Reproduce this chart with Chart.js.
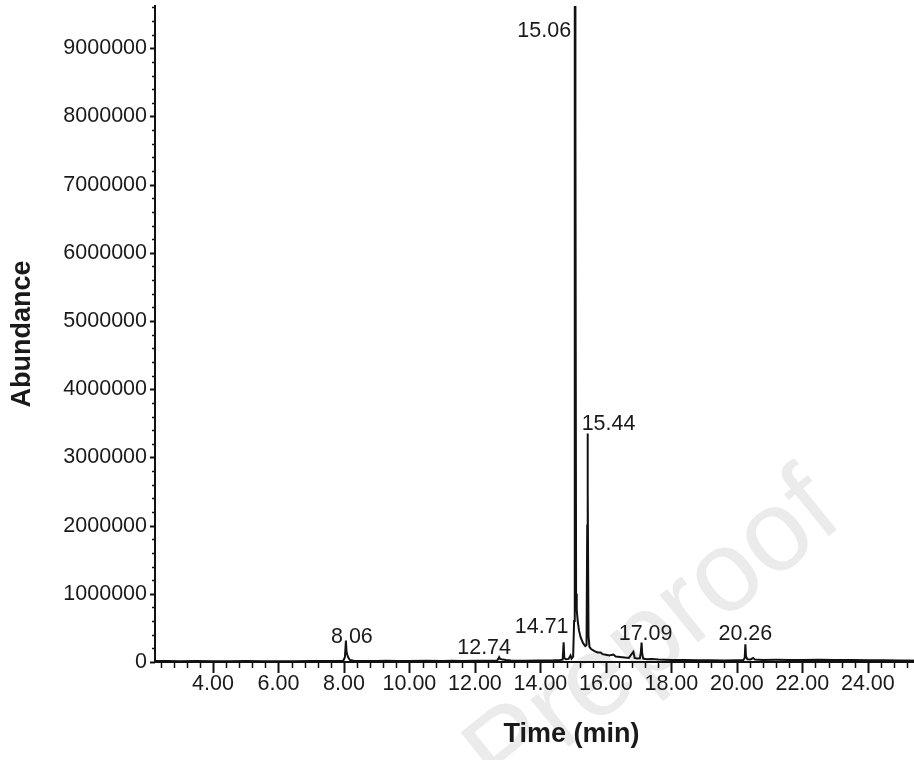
<!DOCTYPE html>
<html>
<head>
<meta charset="utf-8">
<script src="https://cdn.jsdelivr.net/npm/chart.js@4.4.1/dist/chart.umd.min.js"></script>
<style>
  html, body { margin: 0; padding: 0; background: #fff; overflow: hidden; }
  #wrap { width: 990px; height: 760px; }
</style>
</head>
<body>
<div id="wrap"><canvas id="myChart" width="990" height="760"></canvas></div>
<script>

//inicio - dados do cromatograma

const tempos = [
    2.23, 2.6, 3.0, 3.5, 4.0, 4.5, 5.0, 5.5, 6.0, 6.5, 7.0, 7.4, 7.8, 7.98,
    8.03, 8.06, 8.08, 8.10, 8.13, 8.18, 8.3, 8.6, 9.0, 9.3, 9.6, 10.0, 10.5,
    11.0, 11.3, 11.6, 12.0, 12.4, 12.68, 12.72, 12.74, 12.77, 12.85, 12.95,
    13.1, 13.5, 14.0, 14.4, 14.6, 14.68, 14.71, 14.73, 14.78, 14.86, 14.92,
    14.95, 15.00, 15.03, 15.05, 15.06, 15.07, 15.09, 15.11, 15.14, 15.18,
    15.23, 15.30, 15.37, 15.41, 15.43, 15.44, 15.45, 15.47, 15.50, 15.55,
    15.65, 15.75, 15.84, 15.9, 16.0, 16.1, 16.23, 16.3, 16.5, 16.7, 16.84,
    16.88, 16.95, 17.04, 17.07, 17.09, 17.11, 17.14, 17.25, 17.4, 17.6, 17.8,
    18.0, 18.4, 18.8, 19.2, 19.6, 20.0, 20.2, 20.24, 20.26, 20.28, 20.32,
    20.42, 20.5, 20.55, 20.8, 21.2, 21.6, 22.0, 22.5, 23.0, 23.5, 24.0, 24.5,
    25.0, 26.0, 27.0, 27.7
];
const abundancia = [
    15000, 13000, 12000, 14000, 10000, 12000, 13000, 11000, 10000, 12000, 14000, 13000, 16000, 18000,
    70000, 310000, 150000, 110000, 70000, 30000, 20000, 16000, 15000, 20000, 16000, 14000, 17000,
    15000, 19000, 16000, 17000, 18000, 22000, 50000, 70000, 45000, 35000, 28000,
    21000, 20000, 22000, 24000, 28000, 35000, 290000, 60000, 40000, 45000, 95000,
    50000, 80000, 600000, 9500000, 10400000, 8000000, 1000000, 760000, 600000, 460000,
    360000, 280000, 235000, 250000, 2000000, 3350000, 2500000, 380000, 220000, 190000,
    160000, 140000, 140000, 115000, 105000, 95000, 110000, 80000, 70000, 60000, 150000,
    60000, 50000, 55000, 150000, 285000, 120000, 50000, 42000, 45000, 38000, 34000,
    30000, 28000, 26000, 24000, 23000, 25000, 28000, 60000, 260000, 80000, 40000,
    38000, 60000, 35000, 30000, 32000, 30000, 31000, 34000, 30000, 28000, 26000, 24000,
    22000, 20000, 18000, 17000
];

const picosTempo = [8.06, 12.74, 14.71, 15.06, 15.44, 17.09, 20.26];
const picosTexto = ['8.06', '12.74', '14.71', '15.06', '15.44', '17.09', '20.26'];

const ticksX = [4, 6, 8, 10, 12, 14, 16, 18, 20, 22, 24];
const ticksY = [0, 1000000, 2000000, 3000000, 4000000, 5000000, 6000000, 7000000, 8000000, 9000000];

//fim - dados do cromatograma


const fonte = '"Liberation Sans", Arial, sans-serif';
const corTexto = '#1a1a1a';

// posicao dos rotulos em relacao ao topo de cada pico (dx, dy, alinhamento)
const rotuloAjuste = [
    [6, 2, 'center'],
    [-15, -3, 'center'],
    [-22, -9, 'center'],
    [-4, 31, 'right'],
    [21, -4, 'center'],
    [4, -3, 'center'],
    [0, -4, 'center']
];

const fundoMarcaDagua = {
    id: 'fundoMarcaDagua',
    beforeDraw(chart) {
        const ctx = chart.ctx;
        ctx.save();
        ctx.fillStyle = '#fff';
        ctx.fillRect(0, 0, chart.width, chart.height);
        ctx.translate(503, 800);
        ctx.rotate(-39 * Math.PI / 180);
        ctx.font = '115px ' + fonte;
        ctx.fillStyle = '#ebebeb';
        ctx.textAlign = 'left';
        ctx.textBaseline = 'alphabetic';
        ctx.fillText('Preproof', 0, 0);
        ctx.restore();
    }
};

const marcasEixos = {
    id: 'marcasEixos',
    afterDraw(chart) {
        const {ctx, chartArea, scales: {x, y}} = chart;
        ctx.save();
        ctx.strokeStyle = '#111';
        // eixo x: menor a cada 0.4 min
        for (let i = 6; i * 0.4 <= x.max; i++) {
            const px = Math.round(x.getPixelForValue(i * 0.4)) + 0.5;
            const maior = i % 5 === 0;
            ctx.lineWidth = maior ? 2 : 1.5;
            ctx.beginPath();
            ctx.moveTo(px, chartArea.bottom);
            ctx.lineTo(px, chartArea.bottom + (maior ? 11 : 6));
            ctx.stroke();
        }
        // eixo y: menor a cada 200000
        for (let i = 0; i * 200000 <= y.max; i++) {
            const py = Math.round(y.getPixelForValue(i * 200000)) + 0.5;
            const maior = i % 5 === 0;
            ctx.lineWidth = maior ? 2 : 1.5;
            ctx.beginPath();
            ctx.moveTo(chartArea.left, py);
            ctx.lineTo(chartArea.left - (maior ? 5 : 3), py);
            ctx.stroke();
        }
        ctx.restore();
    }
};

const rotulosPicos = {
    id: 'rotulosPicos',
    afterDatasetsDraw(chart) {
        const {ctx, chartArea, scales: {x, y}} = chart;
        ctx.save();
        ctx.font = '21.5px ' + fonte;
        ctx.fillStyle = corTexto;
        ctx.textBaseline = 'alphabetic';
        picosTempo.forEach((t, k) => {
            let topo = 0;
            tempos.forEach((tt, j) => {
                if (Math.abs(tt - t) <= 0.03 && abundancia[j] > topo) topo = abundancia[j];
            });
            const px = x.getPixelForValue(t);
            const py = Math.max(y.getPixelForValue(topo), chartArea.top);
            const aj = rotuloAjuste[k];
            ctx.textAlign = aj[2];
            ctx.fillText(picosTexto[k], px + aj[0], py + aj[1]);
        });
        ctx.restore();
    }
};

const ctx1 = document.getElementById('myChart');

new Chart(ctx1, {
    type: 'line',
    data: {
        datasets: [{
            label: 'Abundance',
            data: tempos.map((t, i) => ({x: t, y: abundancia[i]})),
            borderColor: '#111',
            borderWidth: 2,
            pointRadius: 0,
            tension: 0,
            fill: false
        }]
    },
    options: {
        responsive: false,
        animation: false,
        devicePixelRatio: 1,
        layout: {padding: {top: 6, right: 2, left: 0, bottom: 0}},
        plugins: {
            legend: {display: false},
            tooltip: {enabled: false}
        },
        scales: {
            x: {
                type: 'linear',
                min: 2.23,
                max: 27.67,
                grid: {display: true, drawOnChartArea: false, drawTicks: false},
                border: {display: true, color: '#111', width: 2},
                afterBuildTicks: (s) => { s.ticks = ticksX.map(v => ({value: v})); },
                afterFit: (s) => { s.height = 98; s.paddingLeft = 0; s.paddingRight = 0; },
                ticks: {
                    autoSkip: false,
                    maxRotation: 0,
                    padding: 9,
                    color: corTexto,
                    font: {family: fonte, size: 21.5},
                    callback: (v) => Number(v).toFixed(2)
                },
                title: {
                    display: true,
                    text: 'Time (min)',
                    color: corTexto,
                    font: {family: fonte, size: 27, weight: 'bold'},
                    padding: {top: 0, bottom: 9}
                }
            },
            y: {
                min: 0,
                max: 9620000,
                grid: {display: true, drawOnChartArea: false, drawTicks: false},
                border: {display: true, color: '#111', width: 2},
                afterBuildTicks: (s) => { s.ticks = ticksY.map(v => ({value: v})); },
                afterFit: (s) => { s.width = 155; s.paddingTop = 0; s.paddingBottom = 0; },
                ticks: {
                    autoSkip: false,
                    padding: 8,
                    color: corTexto,
                    font: {family: fonte, size: 21.5},
                    callback: (v) => String(v)
                },
                title: {
                    display: true,
                    text: 'Abundance',
                    color: corTexto,
                    font: {family: fonte, size: 27, weight: 'bold'},
                    padding: {top: 6, bottom: 0}
                }
            }
        }
    },
    plugins: [fundoMarcaDagua, marcasEixos, rotulosPicos]
});

</script>
</body>
</html>
